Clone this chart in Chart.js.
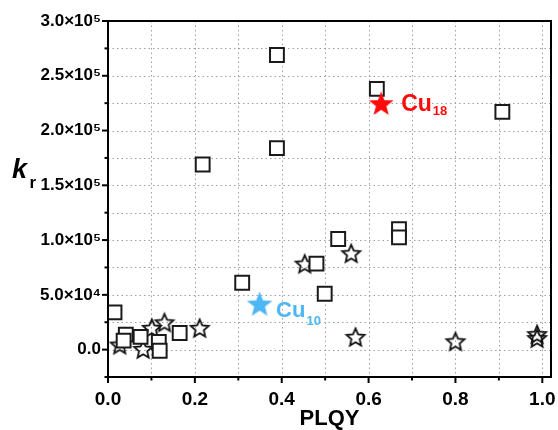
<!DOCTYPE html>
<html>
<head>
<meta charset="utf-8">
<script src="https://cdn.jsdelivr.net/npm/chart.js@4"></script>
<style>
  html, body { margin: 0; padding: 0; background: #fff; overflow: hidden; }
</style>
</head>
<body>
<canvas id="c" width="558" height="430" style="display:block;width:558px;height:430px"></canvas>
<script>
// ---- data ----
const squareX = [0.389, 0.619, 0.908, 0.218, 0.389, 0.670, 0.670, 0.530, 0.480, 0.309, 0.499, 0.015, 0.041, 0.036, 0.075, 0.117, 0.119, 0.165];
const squareY = [269000, 238000, 217000, 169000, 184000, 110000, 102500, 101000, 78500, 61000, 51000, 34000, 13700, 8200, 11600, 7000, -1000, 15200];
const starX = [0.453, 0.560, 0.570, 0.800, 0.988, 0.988, 0.027, 0.081, 0.101, 0.130, 0.211];
const starY = [78500, 88000, 11600, 7600, 14100, 10500, 4600, 600, 19800, 24900, 19800];
const cu18X = [0.629], cu18Y = [225000];
const cu10X = [0.349], cu10Y = [42000];
const xMajorTicks = [0, 0.2, 0.4, 0.6, 0.8, 1.0];
const xMinorTicks = [0.1, 0.3, 0.5, 0.7, 0.9];
const xTickLabels = ['0.0', '0.2', '0.4', '0.6', '0.8', '1.0'];
const yMajorTicks = [0, 50000, 100000, 150000, 200000, 250000, 300000];
const yMinorTicks = [-25000, 25000, 75000, 125000, 175000, 225000, 275000];
const yTickLabels = ['0.0', '5.0×10⁴', '1.0×10⁵', '1.5×10⁵', '2.0×10⁵', '2.5×10⁵', '3.0×10⁵'];

const toPts = (xs, ys) => xs.map((x, i) => ({ x: x, y: ys[i] }));
const FONT = '"Liberation Sans", Arial, Helvetica, sans-serif';

function starCanvas(size, outerR, innerRatio, fill, stroke, lw) {
  const cv = document.createElement('canvas');
  cv.width = size; cv.height = size;
  const g = cv.getContext('2d');
  const c = size / 2;
  g.beginPath();
  for (let i = 0; i < 10; i++) {
    const r = i % 2 === 0 ? outerR : outerR * innerRatio;
    const a = -Math.PI / 2 + i * Math.PI / 5;
    const px = c + r * Math.cos(a), py = c + r * Math.sin(a) + outerR * 0.1;
    if (i === 0) g.moveTo(px, py); else g.lineTo(px, py);
  }
  g.closePath();
  if (fill) { g.fillStyle = fill; g.fill(); }
  if (stroke) { g.strokeStyle = stroke; g.lineWidth = lw; g.lineJoin = 'miter'; g.stroke(); }
  return cv;
}
const openStar = starCanvas(24, 9.4, 0.46, null, '#111', 1.8);
const redStar = starCanvas(30, 13, 0.42, '#ff0a0a', null, 0);
const blueStar = starCanvas(30, 13.5, 0.42, 'rgb(77,182,245)', null, 0);

const frameAndDecor = {
  id: 'frameAndDecor',
  beforeDatasetsDraw(chart) {
    const { ctx, chartArea: a, scales: { x, y } } = chart;
    ctx.save();
    ctx.strokeStyle = '#a0a0a0';
    ctx.lineWidth = 1;
    ctx.setLineDash([1.5, 3]);
    xMajorTicks.concat(xMinorTicks).forEach(v => {
      if (v <= 0) return;
      const px = Math.round(x.getPixelForValue(v)) + 0.5;
      ctx.beginPath(); ctx.moveTo(px, a.top); ctx.lineTo(px, a.bottom); ctx.stroke();
    });
    yMajorTicks.concat(yMinorTicks).forEach(v => {
      if (v >= 300000 || v <= -25000) return;
      const py = Math.round(y.getPixelForValue(v)) + 0.5;
      ctx.beginPath(); ctx.moveTo(a.left, py); ctx.lineTo(a.right, py); ctx.stroke();
    });
    ctx.restore();
  },
  afterDatasetsDraw(chart) {
    const { ctx, chartArea: a, scales: { x, y } } = chart;
    ctx.save();
    ctx.strokeStyle = '#000';
    ctx.lineWidth = 2;
    ctx.setLineDash([]);
    ctx.strokeRect(a.left, a.top, a.right - a.left, a.bottom - a.top);
    const tick = (x1, y1, x2, y2) => { ctx.beginPath(); ctx.moveTo(x1, y1); ctx.lineTo(x2, y2); ctx.stroke(); };
    xMajorTicks.forEach(v => { const px = x.getPixelForValue(v); tick(px, a.bottom, px, a.bottom + 6); });
    xMinorTicks.forEach(v => { const px = x.getPixelForValue(v); tick(px, a.bottom, px, a.bottom + 3.5); });
    yMajorTicks.forEach(v => { const py = y.getPixelForValue(v); tick(a.left, py, a.left - 6, py); });
    yMinorTicks.forEach(v => { const py = y.getPixelForValue(v); tick(a.left, py, a.left - 3.5, py); });

    ctx.fillStyle = '#000';
    ctx.textBaseline = 'alphabetic';
    ctx.textAlign = 'left';
    ctx.font = 'italic bold 27px ' + FONT;
    ctx.fillText('k', 12, 178);
    ctx.font = 'bold 17px ' + FONT;
    ctx.fillText('r', 29.5, 188);

    const label = (dsIndex, main, sub, color, dx, dy, subDy, mainSize, subSize) => {
      const el = chart.getDatasetMeta(dsIndex).data[0];
      ctx.fillStyle = color;
      ctx.font = 'bold ' + mainSize + 'px ' + FONT;
      const bx = el.x + dx, by = el.y + dy;
      ctx.fillText(main, bx, by);
      const w = ctx.measureText(main).width;
      ctx.font = 'bold ' + subSize + 'px ' + FONT;
      ctx.fillText(sub, bx + w + 1, by + subDy);
    };
    label(0, 'Cu', '18', '#ff0a0a', 20, 8, 3.5, 23, 13);
    label(1, 'Cu', '10', 'rgb(77,182,245)', 16.5, 13, 8, 22, 13);
    ctx.restore();
  }
};

new Chart(document.getElementById('c'), {
  type: 'scatter',
  data: {
    datasets: [
      { label: 'Cu18', data: toPts(cu18X, cu18Y), pointStyle: redStar, pointRadius: 13 },
      { label: 'Cu10', data: toPts(cu10X, cu10Y), pointStyle: blueStar, pointRadius: 13 },
      { label: 'squares', data: toPts(squareX, squareY), pointStyle: 'rect', pointRadius: 9.8,
        backgroundColor: '#ffffff', borderColor: '#1a1a1a', borderWidth: 2 },
      { label: 'stars', data: toPts(starX, starY), pointStyle: openStar, pointRadius: 10 }
    ]
  },
  options: {
    responsive: false,
    animation: false,
    events: [],
    layout: { autoPadding: false, padding: { left: 0, right: 7, top: 21, bottom: 0 } },
    plugins: { legend: { display: false }, tooltip: { enabled: false } },
    scales: {
      x: {
        type: 'linear', min: 0, max: 1.02,
        grid: { display: false, drawTicks: false },
        border: { display: false },
        afterBuildTicks: s => { s.ticks = xMajorTicks.map(v => ({ value: v })); },
        afterFit: s => { s.height = 53; s.paddingLeft = 0; s.paddingRight = 0; },
        ticks: {
          autoSkip: false, maxRotation: 0, padding: 11, color: '#000',
          font: { family: FONT, size: 19, weight: 'bold' },
          callback: (v) => { const i = xMajorTicks.findIndex(t => Math.abs(t - v) < 1e-9); return i >= 0 ? xTickLabels[i] : ''; }
        },
        title: { display: true, text: 'PLQY', color: '#000', padding: { top: 0, bottom: 0 },
          font: { family: FONT, size: 22, weight: 'bold', lineHeight: 1.0 } }
      },
      y: {
        type: 'linear', min: -25000, max: 300000,
        grid: { display: false, drawTicks: false },
        border: { display: false },
        afterBuildTicks: s => { s.ticks = yMajorTicks.map(v => ({ value: v })); },
        afterFit: s => { s.width = 108; s.paddingTop = 0; s.paddingBottom = 0; },
        ticks: {
          autoSkip: false, padding: 7, color: '#000',
          font: { family: FONT, size: 17, weight: 'bold' },
          callback: (v) => { const i = yMajorTicks.findIndex(t => Math.abs(t - v) < 1e-6); return i >= 0 ? yTickLabels[i] : ''; }
        }
      }
    }
  },
  plugins: [frameAndDecor]
});
</script>
</body>
</html>
